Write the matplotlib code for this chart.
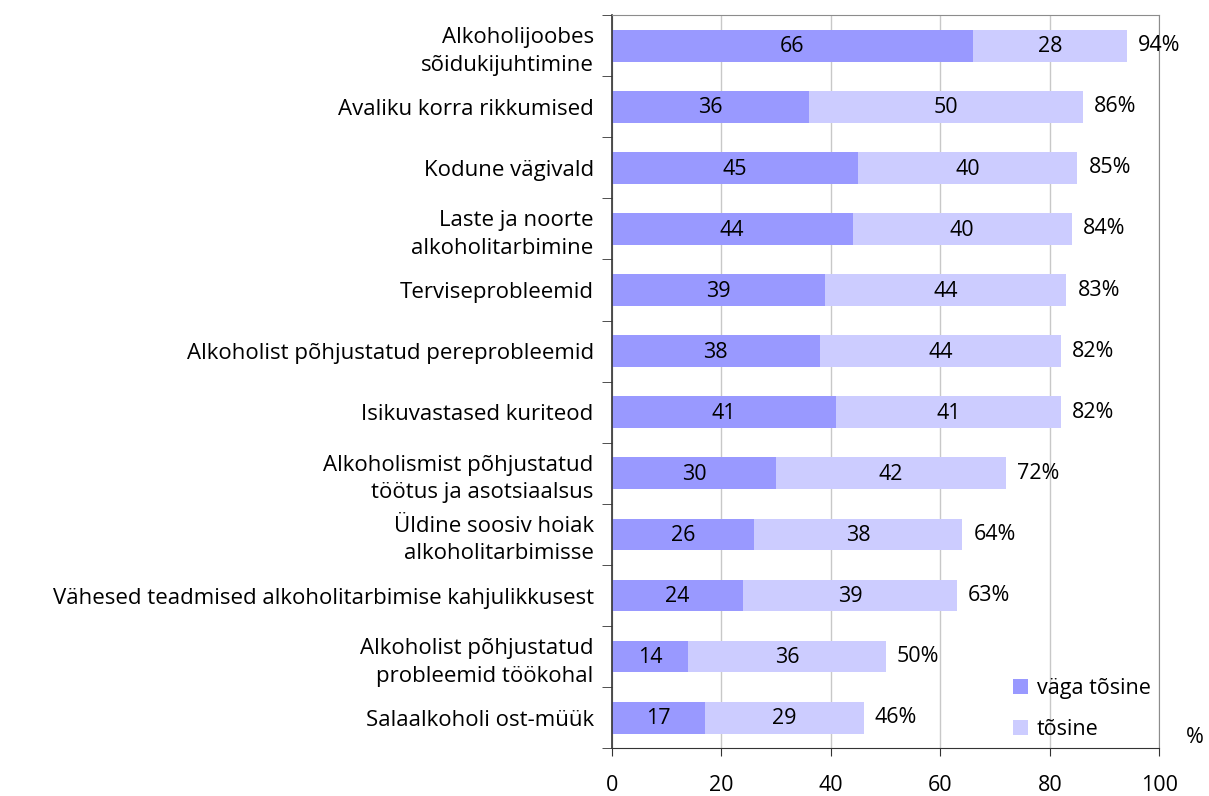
import matplotlib.pyplot as plt
import numpy as np

plt.rcParams['font.family'] = ['Open Sans', 'DejaVu Sans']

categories = [
    "Alkoholijoobes\nsõidukijuhtimine",
    "Avaliku korra rikkumised",
    "Kodune vägivald",
    "Laste ja noorte\nalkoholitarbimine",
    "Terviseprobleemid",
    "Alkoholist põhjustatud pereprobleemid",
    "Isikuvastased kuriteod",
    "Alkoholismist põhjustatud\ntöötus ja asotsiaalsus",
    "Üldine soosiv hoiak\nalkoholitarbimisse",
    "Vähesed teadmised alkoholitarbimise kahjulikkusest",
    "Alkoholist põhjustatud\nprobleemid töökohal",
    "Salaalkoholi ost-müük",
]
vaga_tosine = [66, 36, 45, 44, 39, 38, 41, 30, 26, 24, 14, 17]
tosine = [28, 50, 40, 40, 44, 44, 41, 42, 38, 39, 36, 29]
totals = [94, 86, 85, 84, 83, 82, 82, 72, 64, 63, 50, 46]

fig = plt.figure(figsize=(12.09, 7.96), dpi=100)
ax = fig.add_axes([0.506, 0.060, 0.453, 0.921])

y = np.arange(len(categories))
h = 0.52
ax.barh(y, vaga_tosine, height=h, color='#9999FF', label='väga tõsine', zorder=2)
ax.barh(y, tosine, left=vaga_tosine, height=h, color='#CCCCFF', label='tõsine', zorder=2)

fs = 15.5
for i in range(len(categories)):
    ax.text(vaga_tosine[i] / 2, y[i] + 0.02, str(vaga_tosine[i]), ha='center', va='center', fontsize=fs)
    ax.text(vaga_tosine[i] + tosine[i] / 2, y[i] + 0.02, str(tosine[i]), ha='center', va='center', fontsize=fs)
    ax.annotate(f"{totals[i]}%", (vaga_tosine[i] + tosine[i], y[i]), xytext=(8, 0),
                textcoords='offset points', ha='left', va='center', fontsize=fs)

ax.set_ylim(len(categories) - 0.5, -0.5)
ax.set_xlim(0, 100)
ax.set_xticks(range(0, 101, 20))
ax.tick_params(axis='x', direction='out', length=6, pad=13, labelsize=fs, color='#333333')

ax.set_yticks(y)
ax.set_yticklabels(categories, fontsize=16, linespacing=1.4)
ax.tick_params(axis='y', length=0, pad=13)
ax.set_yticks(np.arange(-0.5, len(categories) + 0.5, 1), minor=True)
ax.tick_params(axis='y', which='minor', direction='out', length=7, color='#333333')

ax.grid(axis='x', color='#C8C8C8', linewidth=1, zorder=0)
for s in ['top', 'right']:
    ax.spines[s].set_color('#8C8C8C')
for s in ['left', 'bottom']:
    ax.spines[s].set_color('#333333')
ax.spines['left'].set_linewidth(1.2)

ax.text(1.065, 0.015, '%', transform=ax.transAxes, ha='center', va='center', fontsize=fs)

ax.legend(loc='lower right', frameon=False, fontsize=fs, handlelength=0.7, handleheight=0.7,
          handletextpad=0.4, labelspacing=0.9, borderaxespad=0.0, bbox_to_anchor=(1.0, 0.0))

fig.savefig('out.png', dpi=100)
